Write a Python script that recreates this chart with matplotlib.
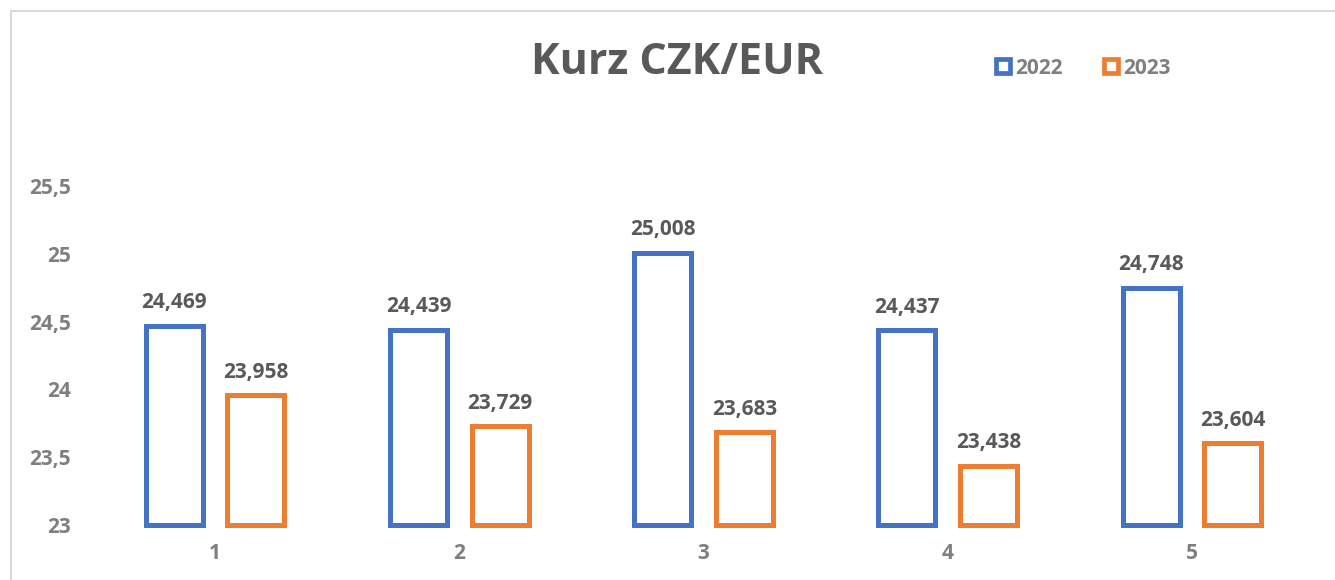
import matplotlib
matplotlib.use('Agg')

import numpy as np
import matplotlib.pyplot as plt
from matplotlib.patches import Rectangle

# data
months = ['1', '2', '3', '4', '5']
rate_2022 = [24.469, 24.439, 25.008, 24.437, 24.748]
rate_2023 = [23.958, 23.729, 23.683, 23.438, 23.604]
series_names = ['2022', '2023']
y_ticks = [23, 23.5, 24, 24.5, 25, 25.5]

blue = '#4472C4'
orange = '#ED7D31'
label_gray = '#595959'
tick_gray = '#7F7F7F'

plt.rcParams['font.family'] = ['Open Sans', 'DejaVu Sans']

fig = plt.figure(figsize=(13.35, 5.8), dpi=100)
fig.patch.set_facecolor('white')

# chart frame
fig.patches.append(Rectangle((11 / 1335, -0.1), 1.2, 1 - 11 / 580 + 0.1,
                             transform=fig.transFigure, fill=False,
                             ec='#D9D9D9', lw=1.5))

ax = fig.add_axes([93 / 1335, 1 - 525 / 580, 1221 / 1335, (525 - 186) / 580])

x = np.arange(len(months))
offset = 0.167
width = 0.234
base = 23

for vals, col, sign in [(rate_2022, blue, -1), (rate_2023, orange, 1)]:
    heights = [v - base for v in vals]
    ax.bar(x + sign * offset, heights, width, bottom=base,
           fill=False, edgecolor=col, linewidth=3.6, clip_on=False)
    for xi, v in zip(x + sign * offset, vals):
        ax.annotate(f'{v:.3f}'.replace('.', ','), (xi, v), xytext=(0, 9),
                    textcoords='offset points', ha='center', va='bottom',
                    fontsize=15, fontweight='bold', color=label_gray)

ax.set_xlim(-0.5, len(months) - 0.5)
ax.set_ylim(23, 25.5)
ax.set_yticks(y_ticks)
ax.set_yticklabels([f'{t:g}'.replace('.', ',') for t in y_ticks])
ax.set_xticks(x)
ax.set_xticklabels(months)
ax.tick_params(axis='both', length=0, labelsize=15, labelcolor=tick_gray)
ax.tick_params(axis='y', pad=16)
ax.tick_params(axis='x', pad=13)
for lab in ax.get_xticklabels() + ax.get_yticklabels():
    lab.set_fontweight('bold')
for s in ax.spines.values():
    s.set_visible(False)
ax.set_facecolor('none')

fig.text(677 / 1335, 1 - 63 / 580, 'Kurz CZK/EUR', ha='center', va='center',
         fontsize=31, fontweight='bold', color=label_gray)

# legend
for lx, col, name in [(994, blue, series_names[0]), (1102, orange, series_names[1])]:
    fig.patches.append(Rectangle((lx / 1335 + 2 / 1335, 1 - 73 / 580), 14 / 1335, 14 / 580,
                                 transform=fig.transFigure, fill=False, ec=col, lw=3.4))
    fig.text((lx + 21) / 1335, 1 - 68 / 580, name, ha='left', va='center',
             fontsize=15, fontweight='bold', color=tick_gray)

fig.savefig('out.png', dpi=100, facecolor='white')
